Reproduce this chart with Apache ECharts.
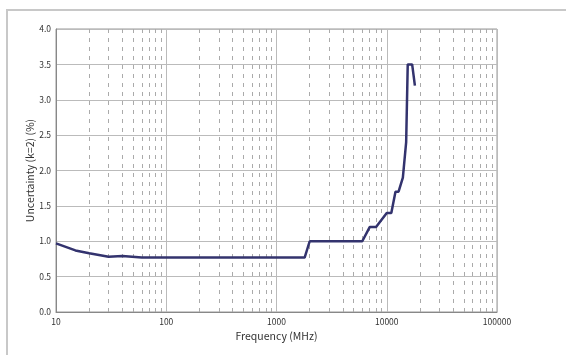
<!DOCTYPE html>
<html><head><meta charset="utf-8">
<script src="https://cdn.jsdelivr.net/npm/echarts@6/dist/echarts.min.js"></script>
<style>html,body{margin:0;padding:0;background:#fff}#c{width:566px;height:355px}</style>
</head><body><div id="c"></div>
<script>
const freqMHz = [10, 15, 20, 30, 40, 60, 1800, 2000, 6000, 7000, 8000, 10000, 11000, 12000, 12800, 14000, 15000, 15500, 17000, 18000];
const uncertainty = [0.97, 0.87, 0.83, 0.78, 0.79, 0.77, 0.77, 1.0, 1.0, 1.2, 1.2, 1.4, 1.4, 1.7, 1.7, 1.9, 2.4, 3.5, 3.5, 3.2];
const minorGrid = [20,30,40,50,60,70,80,90,200,300,400,500,600,700,800,900,2000,3000,4000,5000,6000,7000,8000,9000,20000,30000,40000,50000,60000,70000,80000,90000];
const xTickLabels = [10, 100, 1000, 10000, 100000];
const yTicks = [0, 0.5, 1.0, 1.5, 2.0, 2.5, 3.0, 3.5, 4.0];

const font = '"Noto Sans CJK JP", "Noto Sans", sans-serif';
const chart = echarts.init(document.getElementById('c'), null, {renderer: 'canvas'});
chart.setOption({
  animation: false,
  backgroundColor: '#fff',
  graphic: [{type: 'polyline', shape: {points: [[7, 400], [7, 10], [700, 10]]}, style: {fill: null, stroke: '#c8c8c8', lineWidth: 2}, z: -1}],
  grid: {left: 56, right: 69, top: 29, bottom: 43, show: true, borderColor: '#999', borderWidth: 1},
  xAxis: {
    type: 'log', logBase: 10, min: 10, max: 100000,
    name: 'Frequency (MHz)', nameLocation: 'middle', nameGap: 19, nameMoveOverlap: false,
    nameTextStyle: {fontFamily: font, fontSize: 10.5, color: '#333'},
    axisLine: {show: true, lineStyle: {color: '#888'}},
    axisTick: {show: false},
    axisLabel: {fontFamily: font, fontSize: 8.5, color: '#333', margin: 6, formatter: v => String(Math.round(v))},
    splitLine: {show: true, lineStyle: {color: '#bbb', width: 1}}
  },
  yAxis: {
    type: 'value', min: 0, max: 4, interval: 0.5,
    name: 'Uncertainty (k=2) (%)', nameLocation: 'middle', nameGap: 21, nameRotate: 90, nameMoveOverlap: false,
    nameTextStyle: {fontFamily: font, fontSize: 10.5, color: '#333'},
    axisLine: {show: true, lineStyle: {color: '#888'}},
    axisTick: {show: false},
    axisLabel: {fontFamily: font, fontSize: 8.5, color: '#333', margin: 5, formatter: v => v.toFixed(1)},
    splitLine: {show: true, lineStyle: {color: '#bbb', width: 1}}
  },
  series: [
    {
      type: 'line', data: [], silent: true,
      markLine: {
        silent: true, symbol: 'none', label: {show: false},
        lineStyle: {type: [4, 5], color: '#aaa', width: 1},
        data: minorGrid.map(v => ({xAxis: v}))
      }
    },
    {
      type: 'line', showSymbol: false, symbol: 'none',
      data: freqMHz.map((f, i) => [f, uncertainty[i]]),
      lineStyle: {color: '#33336e', width: 2.5}, z: 5
    }
  ]
});
</script></body></html>
